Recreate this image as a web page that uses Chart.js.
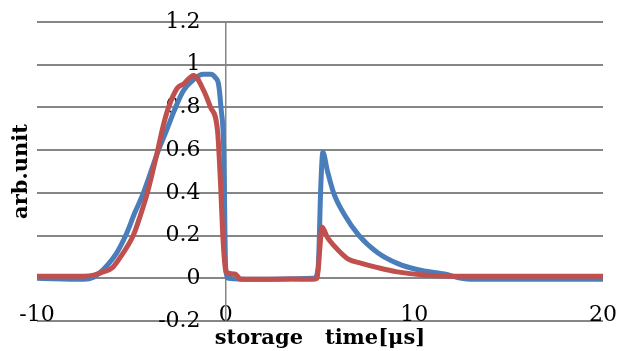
<!DOCTYPE html>
<html>
<head>
<meta charset="utf-8">
<script src="https://cdn.jsdelivr.net/npm/chart.js@4/dist/chart.umd.min.js"></script>
<style>
  body { margin: 0; background: #fff; }
</style>
</head>
<body>
<canvas id="pulse-chart" width="619" height="351"></canvas>
<script>
// time axis in microseconds, signal in arb. units
const blueTime = [-10, -7.5, -7.0, -6.5, -6.0, -5.7, -5.3, -4.8, -4.36, -3.56, -3.1, -2.66, -2.23, -1.7, -1.2, -0.8, -0.55, -0.37, -0.25, -0.1, 0.0, 0.15, 1.5, 3.0, 4.7, 4.9, 5.05, 5.15, 5.4, 5.72, 6.28, 7.07, 8.06, 9.1, 10.2, 11.6, 12.5, 13, 20];
const blueValue = [0, -0.005, 0.005, 0.04, 0.09, 0.13, 0.2, 0.31, 0.4, 0.6, 0.7, 0.8, 0.88, 0.93, 0.955, 0.955, 0.94, 0.905, 0.8, 0.6, 0.05, 0.0, -0.005, -0.003, 0, 0.05, 0.45, 0.59, 0.5, 0.4, 0.3, 0.2, 0.12, 0.07, 0.04, 0.02, 0.0, -0.005, -0.005];

const redTime = [-10, -7.5, -7.0, -6.5, -6.0, -5.5, -4.9, -4.5, -4.15, -3.6, -3.35, -3.03, -2.57, -2.23, -1.7, -1.17, -0.8, -0.43, -0.27, -0.15, 0, 0.5, 0.8, 2, 3.5, 4.6, 4.85, 5.0, 5.1, 5.4, 6.1, 6.5, 7.2, 8.06, 9.1, 10.5, 12, 20];
const redValue = [0.01, 0.01, 0.015, 0.03, 0.05, 0.11, 0.2, 0.3, 0.4, 0.6, 0.7, 0.8, 0.89, 0.91, 0.95, 0.88, 0.8, 0.69, 0.44, 0.2, 0.03, 0.02, -0.005, -0.005, -0.003, -0.005, 0.0, 0.15, 0.24, 0.19, 0.12, 0.09, 0.07, 0.05, 0.03, 0.015, 0.01, 0.01];

const xTicks = [-10, 0, 10, 20];
const yMin = -0.2, yMax = 1.2, yStep = 0.2;

const toPoints = (xs, ys) => xs.map((x, i) => ({ x: x, y: ys[i] }));

const serif = "'DejaVu Serif', serif";
const gridGray = 'rgb(134, 134, 134)';

// keep label overflow from pushing the plot area around
const noPadding = (scale) => {
    scale.paddingTop = 0;
    scale.paddingBottom = 0;
    scale.paddingLeft = 0;
    scale.paddingRight = 0;
};

const lineStyle = {
    borderWidth: 5,
    pointRadius: 0,
    cubicInterpolationMode: 'monotone',
    borderJoinStyle: 'round',
    borderCapStyle: 'round'
};

const data = {
    datasets: [{
        label: 'blue',
        data: toPoints(blueTime, blueValue),
        borderColor: 'rgb(74, 126, 187)',
        ...lineStyle,
        order: 2
    },
    {
        label: 'red',
        data: toPoints(redTime, redValue),
        borderColor: 'rgb(192, 80, 77)',
        ...lineStyle,
        order: 1
    }]
};

const config = {
    type: 'line',
    data,
    options: {
        responsive: false,
        animation: false,
        devicePixelRatio: 1,
        layout: {
            padding: { top: 22, right: 16, left: 0, bottom: 0 }
        },
        plugins: {
            legend: { display: false },
            tooltip: { enabled: false }
        },
        scales: {
            // bottom axis only holds the title
            x: {
                type: 'linear',
                position: 'bottom',
                min: xTicks[0],
                max: xTicks[xTicks.length - 1],
                grid: { display: false },
                border: { display: false },
                ticks: { display: false },
                afterFit: (scale) => { scale.height = 30; noPadding(scale); },
                title: {
                    display: true,
                    text: 'storage   time[μs]',
                    color: '#000',
                    padding: { top: 0, bottom: 0 },
                    font: { family: serif, size: 21, weight: 'bold' }
                }
            },
            // tick labels straddle the bottom grid line
            xLabels: {
                axis: 'x',
                type: 'linear',
                position: { y: -0.11 },
                min: xTicks[0],
                max: xTicks[xTicks.length - 1],
                grid: { display: false, drawTicks: false },
                border: { display: false },
                afterBuildTicks: (scale) => {
                    scale.ticks = xTicks.map(v => ({ value: v }));
                },
                afterFit: noPadding,
                ticks: {
                    maxRotation: 0,
                    autoSkip: false,
                    padding: 0,
                    color: '#000',
                    font: { family: serif, size: 22 }
                }
            },
            // the vertical axis line and horizontal grid, crossing at t = 0
            y: {
                type: 'linear',
                position: { x: 0 },
                min: yMin,
                max: yMax,
                grid: {
                    color: gridGray,
                    lineWidth: 2,
                    drawTicks: false
                },
                border: { display: true, color: gridGray, width: 1.5 },
                afterFit: noPadding,
                ticks: { stepSize: yStep, display: false }
            },
            // tick labels sit a little left of the axis line
            yLabels: {
                axis: 'y',
                type: 'linear',
                position: { x: -1.33 },
                min: yMin,
                max: yMax,
                grid: { display: false },
                border: { display: false },
                afterFit: noPadding,
                ticks: {
                    stepSize: yStep,
                    color: '#000',
                    font: { family: serif, size: 22 },
                    callback: (v) => String(+v.toFixed(1))
                }
            },
            yTitle: {
                axis: 'y',
                type: 'linear',
                position: 'left',
                min: 0,
                max: 1,
                grid: { display: false },
                border: { display: false },
                ticks: { display: false },
                afterFit: (scale) => { scale.width = 37; noPadding(scale); },
                title: {
                    display: true,
                    text: 'arb.unit',
                    color: '#000',
                    padding: { top: 9, bottom: 0 },
                    font: { family: serif, size: 21, weight: 'bold' }
                }
            }
        }
    }
};

const pulseChart = new Chart(document.getElementById('pulse-chart'), config);
</script>
</body>
</html>
